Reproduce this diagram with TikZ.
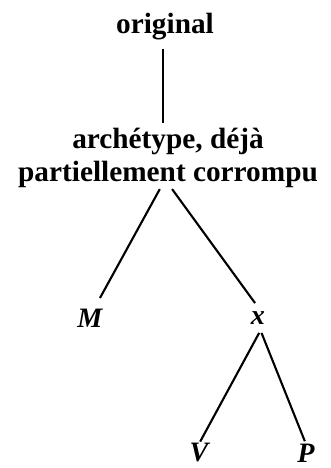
\documentclass[tikz,border=0pt]{standalone}
\usepackage{fontspec}
\setmainfont{Liberation Serif}
\usetikzlibrary{positioning}

\begin{document}
\begin{tikzpicture}[
    x=0.03cm, y=-0.03cm,
    label/.style={font=\bfseries\fontsize{25}{28}\selectfont, align=center, inner sep=1pt},
    sigle/.style={font=\bfseries\itshape\fontsize{24}{28}\selectfont, inner sep=1pt},
    branch/.style={line width=1.8pt}
]
    \useasboundingbox (0,0) rectangle (330,468);

    % Original and archetype
    \node[label] (orig) at (165,27) {original};
    \node[label] (arch) at (168,158) {archétype, déjà\\partiellement corrompu};

    % Manuscripts
    \node[sigle] (M) at (90,318) {M};
    \node[sigle] (x) at (258,318) {x};
    \node[sigle] (V) at (199,453) {V};
    \node[sigle] (P) at (306,453) {P};

    % Branches
    \draw[branch] ([xshift=-2pt,yshift=-6pt]orig.south) -- ([xshift=-2pt,yshift=3.5pt]orig.south |- arch.north);
    \draw[branch] ([xshift=-7pt]arch.south) -- ([xshift=8.5pt,yshift=8pt]M.north);
    \draw[branch] ([xshift=3.5pt]arch.south) -- ([xshift=-2.5pt,yshift=6pt]x.north);
    \draw[branch] ([xshift=1pt,yshift=-6pt]x.south) -- ([xshift=1pt,yshift=0.5pt]V.north);
    \draw[branch] ([xshift=3pt,yshift=-6pt]x.south) -- ([xshift=-1pt,yshift=1pt]P.north);
\end{tikzpicture}
\end{document}
